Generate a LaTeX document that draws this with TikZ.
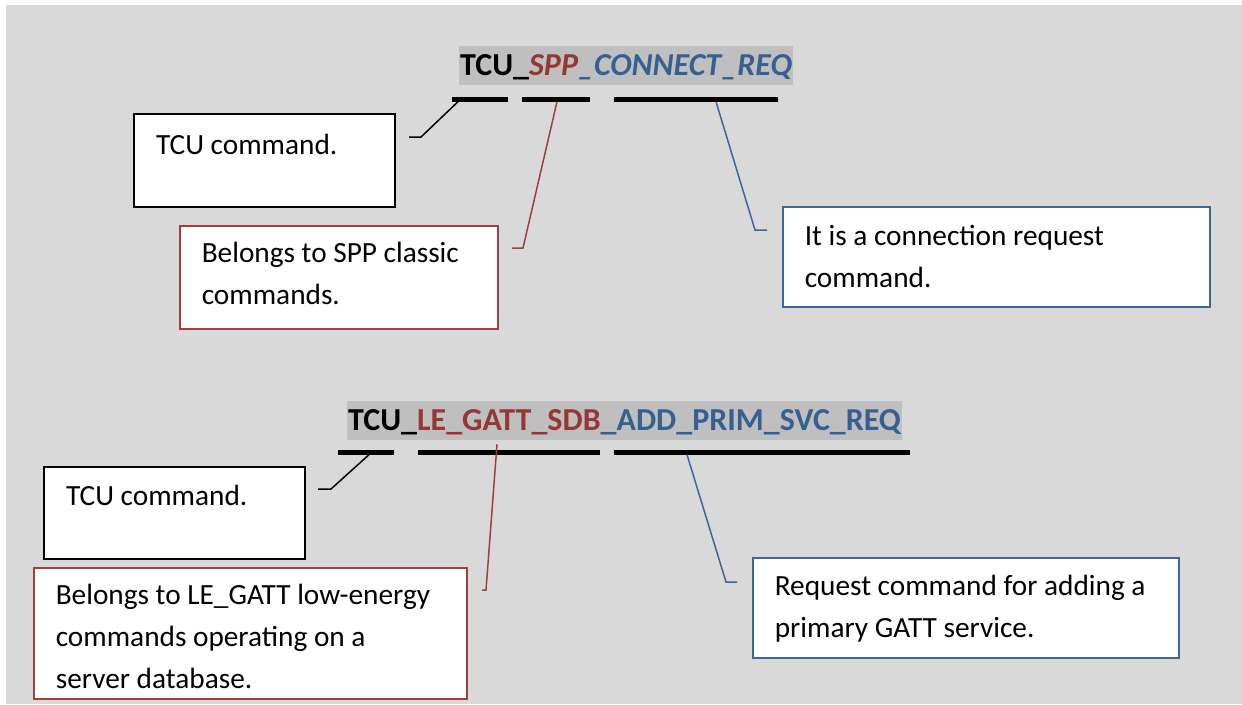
\documentclass[tikz,border=0pt]{standalone}
\usepackage{fontspec}
\setmainfont{Carlito}
\definecolor{bggray}{HTML}{D9D9D9}
\definecolor{hlgray}{HTML}{BFBFBF}
\definecolor{tred}{HTML}{953735}
\definecolor{tblue}{HTML}{376092}
\definecolor{bred}{HTML}{A0403E}
\definecolor{bblue}{HTML}{3D679C}
\newcommand{\bxtext}[4]{\parbox[t][#2pt][t]{#1pt}{\fontsize{29.3}{42}\selectfont\raggedright\leftskip=22pt\rule{0pt}{#3pt}#4}}
\tikzset{
  x=1pt, y=-1pt,
  cbox/.style={fill=white, inner sep=0pt, anchor=north west, line width=1.6pt},
  blackbox/.style={cbox, draw=black, line width=2pt},
  redbox/.style={cbox, draw=bred},
  bluebox/.style={cbox, draw=bblue},
  titlebox/.style={fill=hlgray, inner xsep=1pt, inner ysep=0pt, text height=29.5pt, text depth=10pt, anchor=base west, font=\fontsize{32}{36}\selectfont\bfseries},
  bar/.style={fill=black, inner sep=0pt, minimum height=5pt, anchor=west},
  conn/.style={line width=1.5pt},
}
\begin{document}
\begin{tikzpicture}
\useasboundingbox (0,0) rectangle (1242,704);
\fill[white] (0,0) rectangle (1242,704);
\fill[bggray] (6,5) rectangle (1242,704);

% title 1
\node[titlebox] (t1) at (459,75) {TCU\_\textit{\color{tred}SPP\color{tblue}\_CONNECT\_REQ}};
\node[bar, minimum width=56pt] (b11) at (452,99) {};
\node[bar, minimum width=68pt] (b12) at (522,99) {};
\node[bar, minimum width=164pt] (b13) at (614,99) {};

\node[blackbox] (box1) at (133,113) {\bxtext{261}{93}{40}{TCU command.}};
\node[redbox] (box2) at (179,225) {\bxtext{318}{103}{37}{Belongs to SPP classic\\commands.}};
\node[bluebox] (box3) at (782,206) {\bxtext{427}{100}{39}{It is a connection request\\command.}};

\coordinate (k1a) at (421,137); \coordinate (k1b) at (409,137);
\coordinate (r1a) at (523,248); \coordinate (r1b) at (512,248);
\coordinate (u1a) at (755,230); \coordinate (u1b) at (767,230);
\draw[conn, black] ([xshift=6pt]b11.south west) -- (k1a) -- (k1b);
\draw[conn, bred] ([xshift=35pt]b12.south west) -- (r1a) -- (r1b);
\draw[conn, bblue] ([xshift=102pt]b13.south west) -- (u1a) -- (u1b);

% title 2
\node[titlebox] (t2) at (347,430) {TCU\_{\color{tred}LE\_GATT\_SDB}{\color{tblue}\_ADD\_PRIM\_SVC\_REQ}};
\node[bar, minimum width=56pt] (b21) at (338,452) {};
\node[bar, minimum width=182pt] (b22) at (418,452) {};
\node[bar, minimum width=296pt] (b23) at (614,452) {};

\node[blackbox] (box4) at (43,466) {\bxtext{261}{92}{38}{TCU command.}};
\node[redbox] (box5) at (33,567) {\bxtext{433}{131}{37}{Belongs to LE\_GATT low-energy\\commands operating on a\\server database.}};
\node[bluebox] (box6) at (752,557) {\bxtext{426}{100}{38}{Request command for adding a\\primary GATT service.}};

\coordinate (k2a) at (331,489); \coordinate (k2b) at (318,489);
\coordinate (r2a) at (486,590); \coordinate (r2b) at (482,590);
\coordinate (u2a) at (726,582); \coordinate (u2b) at (737,582);
\draw[conn, black] ([xshift=31pt]b21.south west) -- (k2a) -- (k2b);
\draw[conn, bred] ([shift={(79,-5)}]b22.north west) -- (r2a) -- (r2b);
\draw[conn, bblue] ([xshift=73pt]b23.south west) -- (u2a) -- (u2b);
\end{tikzpicture}
\end{document}
